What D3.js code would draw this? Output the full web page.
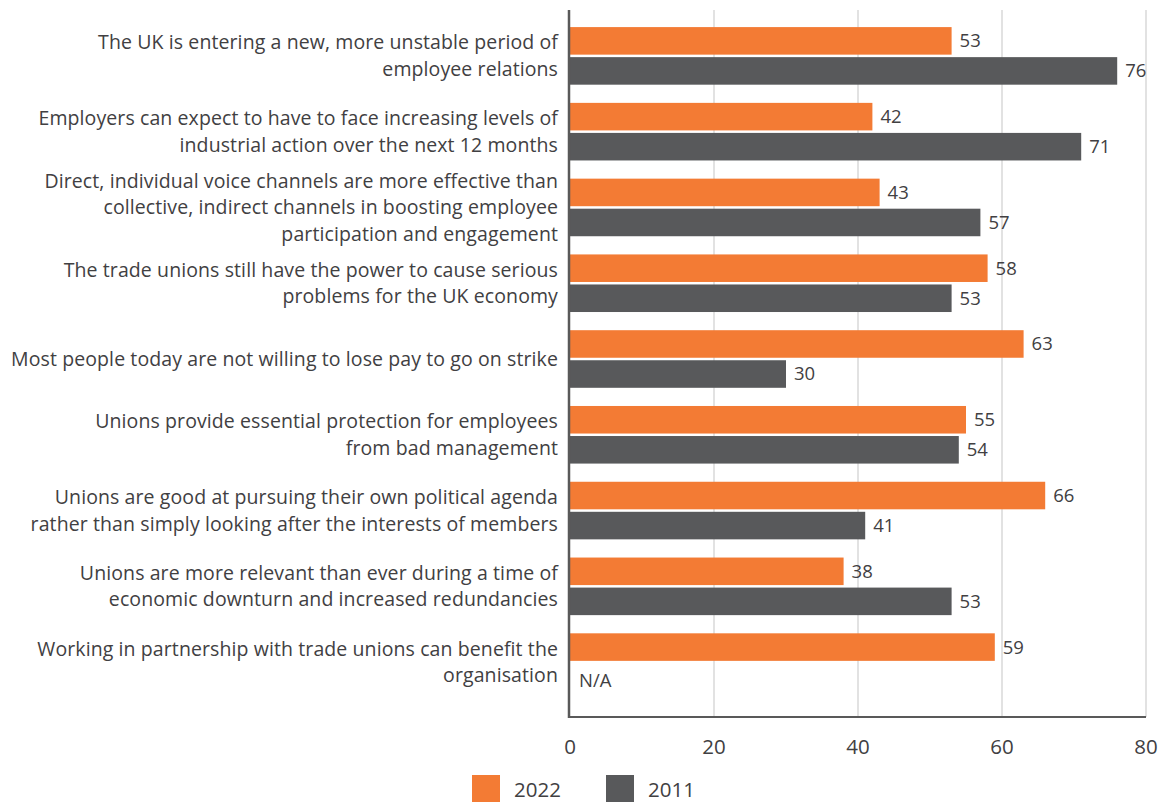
<!DOCTYPE html>
<html>
<head>
<meta charset="utf-8">
<script src="https://cdn.jsdelivr.net/npm/d3@7/dist/d3.min.js"></script>
<style>
  html, body { margin: 0; padding: 0; background: #ffffff; }
  svg { display: block; }
  text { font-family: "Open Sans", sans-serif; fill: #414042; }
</style>
</head>
<body>
<svg id="chart" width="1170" height="802"></svg>
<script>
// Survey statements (label lines per statement)
const categories = [
  ["The UK is entering a new, more unstable period of", "employee relations"],
  ["Employers can expect to have to face increasing levels of", "industrial action over the next 12 months"],
  ["Direct, individual voice channels are more effective than", "collective, indirect channels in boosting employee", "participation and engagement"],
  ["The trade unions still have the power to cause serious", "problems for the UK economy"],
  ["Most people today are not willing to lose pay to go on strike"],
  ["Unions provide essential protection for employees", "from bad management"],
  ["Unions are good at pursuing their own political agenda", "rather than simply looking after the interests of members"],
  ["Unions are more relevant than ever during a time of", "economic downturn and increased redundancies"],
  ["Working in partnership with trade unions can benefit the", "organisation"]
];
const seriesNames = ["2022", "2011"];
const values2022 = [53, 42, 43, 58, 63, 55, 66, 38, 59];
const values2011 = [76, 71, 57, 53, 30, 54, 41, 53, null];
const xTicks = [0, 20, 40, 60, 80];
const missingLabel = "N/A";

const colors = { "2022": "#F37B34", "2011": "#58595B" };

const svg = d3.select("#chart");

const x = d3.scaleLinear().domain([0, 80]).range([570, 1146]);
const y = d3.scaleBand()
  .domain(d3.range(categories.length))
  .range([18, 700])
  .paddingInner(0.24)
  .paddingOuter(0.12);
const ySub = d3.scaleBand()
  .domain(seriesNames)
  .range([0, y.bandwidth()])
  .paddingInner(0.083);

// Vertical gridlines
svg.append("g")
  .selectAll("line")
  .data(xTicks.filter(t => t > 0))
  .join("line")
  .attr("x1", d => x(d)).attr("x2", d => x(d))
  .attr("y1", 10).attr("y2", 717)
  .attr("stroke", "#d9d9d9")
  .attr("stroke-width", 1.5);

// Bars
const rows = categories.map((c, i) => ({
  i,
  vals: [
    { s: "2022", v: values2022[i] },
    { s: "2011", v: values2011[i] }
  ]
}));

const groups = svg.append("g")
  .selectAll("g")
  .data(rows)
  .join("g")
  .attr("transform", d => `translate(0,${y(d.i)})`);

groups.selectAll("rect")
  .data(d => d.vals.filter(v => v.v != null))
  .join("rect")
  .attr("x", x(0))
  .attr("y", d => ySub(d.s))
  .attr("width", d => x(d.v) - x(0))
  .attr("height", ySub.bandwidth())
  .attr("fill", d => colors[d.s]);

// Value labels
groups.selectAll("text.val")
  .data(d => d.vals)
  .join("text")
  .attr("class", "val")
  .attr("x", d => d.v != null ? x(d.v) + 8 : x(0) + 9)
  .attr("y", d => ySub(d.s) + ySub.bandwidth() / 2 + (d.v != null ? 0 : 3))
  .attr("dy", "0.35em")
  .attr("font-size", 18.5)
  .text(d => d.v != null ? d.v : missingLabel);

// Category labels (multi-line, right aligned, centred on the group)
const lineH = 26.5;
svg.append("g")
  .selectAll("text")
  .data(categories)
  .join("text")
  .attr("text-anchor", "end")
  .attr("font-size", 19.5)
  .attr("letter-spacing", 0.1)
  .each(function(lines, i) {
    const cy = y(i) + y.bandwidth() / 2;
    const top = cy - (lines.length - 1) * lineH / 2;
    d3.select(this).selectAll("tspan")
      .data(lines)
      .join("tspan")
      .attr("x", 558)
      .attr("y", (l, k) => top + k * lineH)
      .attr("dy", "0.35em")
      .text(l => l);
  });

// Axes lines
svg.append("line")
  .attr("x1", 569).attr("x2", 569)
  .attr("y1", 10).attr("y2", 718)
  .attr("stroke", "#595959").attr("stroke-width", 2.5);
svg.append("line")
  .attr("x1", 568).attr("x2", 1146)
  .attr("y1", 717).attr("y2", 717)
  .attr("stroke", "#595959").attr("stroke-width", 2);

// X tick labels
svg.append("g")
  .selectAll("text")
  .data(xTicks)
  .join("text")
  .attr("x", d => x(d))
  .attr("y", 747)
  .attr("dy", "0.35em")
  .attr("text-anchor", "middle")
  .attr("font-size", 20.5)
  .text(d => d);

// Legend
const legend = svg.append("g")
  .selectAll("g")
  .data(seriesNames)
  .join("g")
  .attr("transform", (d, i) => `translate(${472 + i * 134},775)`);
legend.append("rect")
  .attr("width", 28).attr("height", 27)
  .attr("fill", d => colors[d]);
legend.append("text")
  .attr("x", 42).attr("y", 15)
  .attr("dy", "0.35em")
  .attr("font-size", 20.5)
  .text(d => d);
</script>
</body>
</html>
